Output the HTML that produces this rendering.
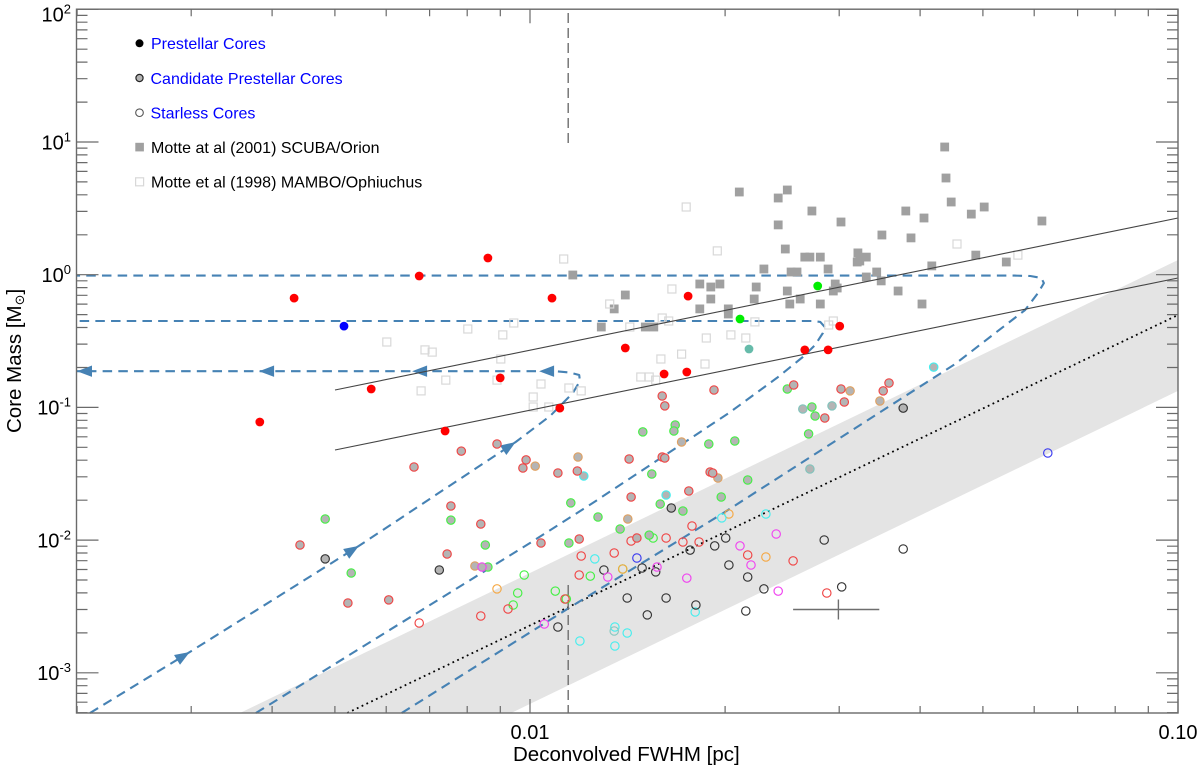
<!DOCTYPE html>
<html lang="en">
<head>
<meta charset="utf-8">
<title>Core Mass vs Deconvolved FWHM</title>
<style>
html,body{margin:0;padding:0;background:#fff;}
svg{position:absolute;left:0;top:0;display:block;font-family:"Liberation Sans",Arial,sans-serif;}
</style>
</head>
<body>
<svg id="chart" xmlns="http://www.w3.org/2000/svg" width="1200" height="769" viewBox="0 0 1200 769">
  <g id="plot-layer"></g>
  <g id="axis-layer"></g>
  <g>
    <circle cx="139.5" cy="43.3" r="4" fill="#000"/>
    <text x="151" y="49" font-size="16" fill="#0000ff">Prestellar Cores</text>
    <circle cx="139.5" cy="78" r="3.6" fill="#b4b4b4" stroke="#222" stroke-width="1.2"/>
    <text x="150.5" y="84" font-size="16" fill="#0000ff">Candidate Prestellar Cores</text>
    <circle cx="139.5" cy="112.7" r="3.8" fill="none" stroke="#555" stroke-width="1.1"/>
    <text x="150.5" y="118.5" font-size="16" fill="#0000ff">Starless Cores</text>
    <rect x="135.3" y="142.8" width="8.6" height="8.6" fill="#a0a0a0"/>
    <text x="151" y="153" font-size="16" fill="#000">Motte at al (2001) SCUBA/Orion</text>
    <rect x="135.6" y="177.8" width="8" height="8" fill="none" stroke="#d8d8d8" stroke-width="1.2"/>
    <text x="151" y="187.5" font-size="16" fill="#000">Motte et al (1998) MAMBO/Ophiuchus</text>
  </g>
  <text x="513" y="761" font-size="20.5" fill="#000">Deconvolved FWHM [pc]</text>
  <text transform="translate(21,433) rotate(-90)" font-size="20.5" fill="#000">Core Mass [M<tspan font-size="13" dy="3" font-family="'DejaVu Sans',sans-serif">⊙</tspan><tspan dy="-3">]</tspan></text>
</svg>
<script>
// All FWHM and mass values are log10 of pc and log10 of solar masses.
const xTickValues = [-2, -1];
const xTickLabels = ['0.01', '0.10'];
const yTickExponents = [2, 1, 0, -1, -2, -3];
const minorMultipliers = [2, 3, 4, 5, 6, 7, 8, 9];

const prestellarRedLogFwhm = [-2.171,-2.065,-1.966,-1.756,-1.853,-1.793,-1.758,-2.046,-1.954,-2.245,-2.417,-2.364,-2.131,-1.522,-1.576,-1.540];
const prestellarRedLogMass = [-0.010,0.126,-0.176,-0.161,-0.552,-0.748,-0.733,-0.778,-1.005,-0.861,-1.110,-0.176,-1.178,-0.387,-0.567,-0.567];
const prestellarBlueLogFwhm = [-2.287];
const prestellarBlueLogMass = [-0.387];
const prestellarGreenLogFwhm = [-1.556,-1.676];
const prestellarGreenLogMass = [-0.085,-0.334];
const prestellarTealLogFwhm = [-1.662];
const prestellarTealLogMass = [-0.560];

const motte2001LogFwhm = [-1.360,-1.358,-1.350,-1.299,-1.319,-1.210,-1.420,-1.392,-1.677,-1.617,-1.603,-1.565,-1.520,-1.617,-1.457,-1.412,-1.312,-1.265,-1.606,-1.576,-1.568,-1.552,-1.494,-1.481,-1.495,-1.491,-1.380,-1.639,-1.597,-1.588,-1.540,-1.465,-1.481,-1.458,-1.529,-1.526,-1.532,-1.432,-1.395,-1.552,-1.599,-1.583,-1.603,-1.651,-1.654,-1.721,-1.707,-1.721,-1.738,-1.738,-1.694,-1.694,-1.934,-1.853,-1.870,-1.890,-1.822,-1.809];
const motte2001LogMass = [0.962,0.729,0.548,0.510,0.457,0.405,0.480,0.427,0.623,0.578,0.638,0.480,0.397,0.375,0.299,0.277,0.148,0.096,0.194,0.133,0.133,0.133,0.164,0.133,0.096,0.103,0.066,0.043,0.020,0.020,0.043,0.020,-0.017,-0.047,-0.070,-0.100,-0.123,-0.123,-0.221,-0.221,-0.221,-0.183,-0.123,-0.093,-0.183,-0.093,-0.070,-0.183,-0.070,-0.258,-0.258,-0.296,-0.002,-0.153,-0.258,-0.394,-0.394,-0.394];

const motte1998LogFwhm = [-1.711,-1.341,-1.247,-1.653,-1.539,-1.532,-1.728,-1.690,-1.667,-1.730,-1.759,-1.948,-1.781,-1.877,-1.796,-1.786,-1.846,-2.096,-2.025,-2.042,-2.162,-2.151,-2.045,-1.798,-1.766,-2.130,-2.051,-1.983,-1.940,-1.921,-1.829,-1.816,-1.806,-2.168,-2.221,-1.995,-1.995,-1.971];
const motte1998LogMass = [0.179,0.231,0.148,-0.356,-0.379,-0.349,-0.477,-0.454,-0.477,-0.673,0.510,0.118,-0.108,-0.221,-0.326,-0.349,-0.394,-0.409,-0.364,-0.454,-0.567,-0.583,-0.635,-0.635,-0.598,-0.794,-0.794,-0.824,-0.854,-0.876,-0.771,-0.771,-0.794,-0.876,-0.507,-0.922,-0.997,-0.997];

const candidateRedLogFwhm = [-2.051,-2.006,-2.011,-1.957,-1.927,-1.847,-1.796,-1.792,-1.716,-1.796,-1.792,-1.722,-1.718,-1.755,-1.844,-1.924,-1.983,-2.076,-1.835,-1.593,-1.520,-1.515,-1.545,-1.455,-1.446,-2.122,-2.179,-2.106,-2.355,-2.281,-2.218,-2.128];
const candidateRedLogMass = [-1.276,-1.396,-1.457,-1.494,-1.479,-1.389,-0.914,-0.989,-0.869,-1.374,-1.381,-1.487,-1.494,-1.630,-1.675,-1.992,-2.022,-1.879,-1.984,-0.831,-0.861,-0.959,-1.080,-0.876,-0.816,-1.743,-1.449,-1.329,-2.037,-2.474,-2.451,-2.105];
const candidateOrangeLogFwhm = [-1.992,-1.926,-1.766,-1.710,-1.849,-1.506,-1.460,-2.085];
const candidateOrangeLogMass = [-1.442,-1.374,-1.261,-1.532,-1.841,-0.876,-0.952,-2.195];
const candidateGreenLogFwhm = [-1.826,-1.776,-1.778,-1.724,-1.812,-1.937,-1.895,-1.861,-1.940,-1.816,-1.799,-1.705,-1.764,-1.603,-1.565,-1.560,-1.570,-1.684,-1.664,-2.316,-2.276,-2.122,-2.069,-2.065];
const candidateGreenLogMass = [-1.185,-1.133,-1.178,-1.276,-1.502,-1.720,-1.826,-1.916,-2.022,-1.962,-1.728,-1.675,-1.781,-0.861,-0.997,-1.065,-1.200,-1.253,-1.547,-1.841,-2.248,-1.849,-2.037,-2.203];
const candidateCyanLogFwhm = [-1.917,-1.790,-1.377];
const candidateCyanLogMass = [-1.517,-1.660,-0.696];
const candidateBlackLogFwhm = [-1.782,-1.424,-2.316,-2.140];
const candidateBlackLogMass = [-1.758,-1.005,-2.142,-2.225];
const candidateTealLogFwhm = [-1.579,-1.534,-1.568];
const candidateTealLogMass = [-1.012,-0.989,-1.464];
const candidateMagentaLogFwhm = [-2.074];
const candidateMagentaLogMass = [-2.203];

const starlessRedLogFwhm = [-1.790,-1.844,-1.750,-1.764,-1.739,-1.921,-1.870,-1.924,-1.946,-1.664,-1.594,-1.542,-2.171,-2.034,-2.076];
const starlessRedLogMass = [-1.984,-2.007,-1.894,-2.014,-2.014,-2.120,-2.097,-2.263,-2.444,-2.112,-2.157,-2.399,-2.625,-2.519,-2.572];
const starlessBlackLogFwhm = [-1.715,-1.698,-1.753,-1.886,-1.827,-1.806,-1.693,-1.957,-1.850,-1.790,-1.819,-1.744,-1.546,-1.424,-1.664,-1.639,-1.519,-1.667];
const starlessBlackLogMass = [-2.044,-1.984,-2.075,-2.225,-2.210,-2.240,-2.188,-2.655,-2.436,-2.436,-2.564,-2.489,-1.999,-2.067,-2.278,-2.368,-2.353,-2.534];
const starlessCyanLogFwhm = [-1.704,-1.900,-1.745,-1.869,-1.850,-1.923,-1.869,-1.636];
const starlessCyanLogMass = [-1.833,-2.142,-2.542,-2.655,-2.700,-2.760,-2.798,-1.803];
const starlessTealLogFwhm = [-1.870];
const starlessTealLogMass = [-2.685];
const starlessGreenLogFwhm = [-1.810,-1.857,-1.907,-1.961,-1.944,-2.009,-2.019,-2.026];
const starlessGreenLogMass = [-1.984,-2.218,-2.271,-2.384,-2.444,-2.263,-2.399,-2.489];
const starlessOrangeLogFwhm = [-1.693,-1.636,-1.857,-2.051];
const starlessOrangeLogMass = [-1.803,-2.127,-2.218,-2.368];
const starlessMagentaLogFwhm = [-1.880,-1.804,-1.758,-1.978,-1.620,-1.676,-1.659,-1.617];
const starlessMagentaLogMass = [-2.278,-2.203,-2.286,-2.632,-1.954,-2.044,-2.188,-2.384];
const starlessBlueLogFwhm = [-1.835,-1.201];
const starlessBlueLogMass = [-2.135,-1.344];

const bandUpperLogFwhm = [-2.4475,-1];
const bandUpperLogMass = [-3.303,0.111];
const bandLowerLogFwhm = [-2.029,-1];
const bandLowerLogMass = [-3.303,-0.876];
const dottedLogFwhm = [-2.282,-1];
const dottedLogMass = [-3.303,-0.304];
const solidUpperLogFwhm = [-2.301,-1];
const solidUpperLogMass = [-0.869,0.427];
const solidLowerLogFwhm = [-2.301,-1];
const solidLowerLogMass = [-1.321,-0.025];

const trackALogFwhm = [-2.679,-2.525,-2.264,-2.022,-1.969,-1.934,-1.923,-1.924,-1.938,-1.961,-1.986,-2.182,-2.418,-2.699];
const trackALogMass = [-3.303,-2.843,-2.044,-1.261,-1.065,-0.892,-0.802,-0.756,-0.738,-0.727,-0.727,-0.727,-0.727,-0.727];
const trackAArrowVertices = [1,2,3,10,11,12,13];
const trackBLogFwhm = [-2.423,-2.239,-2.000,-1.903,-1.693,-1.619,-1.579,-1.560,-1.548,-1.545,-1.552,-1.565,-2.699];
const trackBLogMass = [-3.303,-2.745,-2.022,-1.720,-1.042,-0.778,-0.620,-0.530,-0.439,-0.394,-0.356,-0.349,-0.349];
const trackCLogFwhm = [-2.198,-1.940,-1.704,-1.344,-1.236,-1.216,-1.207,-1.211,-1.228,-1.252,-2.699];
const trackCLogMass = [-3.303,-2.512,-1.803,-0.673,-0.266,-0.138,-0.063,-0.025,-0.010,-0.007,-0.007];

const beamTopLogFwhm = [-1.941,-1.941];
const beamTopLogMass = [1.972,0.992];
const beamBottomLogFwhm = [-1.941,-1.941];
const beamBottomLogMass = [-2.338,-3.303];
const errorBarHLogFwhm = [-1.594,-1.461];
const errorBarHLogMass = [-2.523,-2.523];
const errorBarVLogFwhm = [-1.524,-1.524];
const errorBarVLogMass = [-2.448,-2.598];

const NS = 'http://www.w3.org/2000/svg';
const plotLayer = document.getElementById('plot-layer');
const axisLayer = document.getElementById('axis-layer');
const LEFT = 76.5, RIGHT = 1178, TOP = 9.2, BOTTOM = 713;
const xScale = v => 530 + 648 * (v + 2);
const yScale = v => 274.7 - 132.7 * v;

function make(tag, attrs, parent) {
  const el = document.createElementNS(NS, tag);
  for (const k in attrs) el.setAttribute(k, attrs[k]);
  parent.appendChild(el);
  return el;
}
function points(xs, ys) {
  return xs.map((x, i) => xScale(x).toFixed(1) + ',' + yScale(ys[i]).toFixed(1)).join(' ');
}

// shaded band
const band = make('polygon', {
  points: points(bandUpperLogFwhm, bandUpperLogMass) + ' ' + points(bandLowerLogFwhm.slice().reverse(), bandLowerLogMass.slice().reverse()),
  fill: '#e4e4e4'
}, plotLayer);



// dotted relation
const dotted = make('polyline', {
  points: points(dottedLogFwhm, dottedLogMass), fill: 'none', stroke: '#000',
  'stroke-width': 1.8, 'stroke-dasharray': '1.8 3.5'
}, plotLayer);



// evolutionary tracks
function drawTrack(xs, ys) {
  const line = make('polyline', {
    points: points(xs, ys), fill: 'none', stroke: '#4682b4', 'stroke-width': 2.1,
    'stroke-dasharray': '9.5 6.2', 'stroke-linejoin': 'round'
  }, plotLayer);
  
  
}
drawTrack(trackALogFwhm, trackALogMass);
drawTrack(trackBLogFwhm, trackBLogMass);
drawTrack(trackCLogFwhm, trackCLogMass);

trackAArrowVertices.forEach(i => {
  const tx = xScale(trackALogFwhm[i]), ty = yScale(trackALogMass[i]);
  const px = xScale(trackALogFwhm[i - 1]), py = yScale(trackALogMass[i - 1]);
  const angle = Math.atan2(ty - py, tx - px) * 180 / Math.PI;
  const arrow = make('polygon', {
    points: '0,0 -15,-5.7 -15,5.7', fill: '#4682b4',
    transform: 'translate(' + tx.toFixed(1) + ',' + ty.toFixed(1) + ') rotate(' + angle.toFixed(1) + ')'
  }, plotLayer);
  
  
});

// Motte squares
motte2001LogFwhm.forEach((x, i) => {
  const s = make('rect', {
    x: (xScale(x) - 4.4).toFixed(1), y: (yScale(motte2001LogMass[i]) - 4.4).toFixed(1),
    width: 8.8, height: 8.8, fill: '#a0a0a0'
  }, plotLayer);
  
  
});
motte1998LogFwhm.forEach((x, i) => {
  const s = make('rect', {
    x: (xScale(x) - 4).toFixed(1), y: (yScale(motte1998LogMass[i]) - 4).toFixed(1),
    width: 8, height: 8, fill: 'none', stroke: '#d8d8d8', 'stroke-width': 1.2
  }, plotLayer);
  
  
});

// solid relations
function drawSolid(xs, ys) {
  const line = make('polyline', {
    points: points(xs, ys), fill: 'none', stroke: '#444', 'stroke-width': 1.1
  }, plotLayer);
  
  
}
drawSolid(solidUpperLogFwhm, solidUpperLogMass);
drawSolid(solidLowerLogFwhm, solidLowerLogMass);

// beam marks and error bar
function drawGrayLine(xs, ys, dash) {
  const line = make('polyline', {
    points: points(xs, ys), fill: 'none', stroke: '#6e6e6e', 'stroke-width': 1.4
  }, plotLayer);
  if (dash) line.setAttribute('stroke-dasharray', '10 5');
  
  
}
drawGrayLine(beamTopLogFwhm, beamTopLogMass, true);
drawGrayLine(beamBottomLogFwhm, beamBottomLogMass, true);
drawGrayLine(errorBarHLogFwhm, errorBarHLogMass, false);
drawGrayLine(errorBarVLogFwhm, errorBarVLogMass, false);

// core markers
function drawStarless(xs, ys, color) {
  xs.forEach((x, i) => {
    const c = make('circle', {
      cx: xScale(x).toFixed(1), cy: yScale(ys[i]).toFixed(1), r: 4.2,
      fill: 'none', stroke: color, 'stroke-width': 1.15
    }, plotLayer);
    
    
  });
}
function drawCandidate(xs, ys, color) {
  xs.forEach((x, i) => {
    const c = make('circle', {
      cx: xScale(x).toFixed(1), cy: yScale(ys[i]).toFixed(1), r: 4.2,
      fill: '#b4b4b4', stroke: color, 'stroke-width': 1.15
    }, plotLayer);
    
    
  });
}
function drawPrestellar(xs, ys, color) {
  xs.forEach((x, i) => {
    const c = make('circle', {
      cx: xScale(x).toFixed(1), cy: yScale(ys[i]).toFixed(1), r: 4.4, fill: color
    }, plotLayer);
    
    
  });
}
drawStarless(starlessGreenLogFwhm, starlessGreenLogMass, '#44f044');
drawStarless(starlessOrangeLogFwhm, starlessOrangeLogMass, '#f5a742');
drawStarless(starlessCyanLogFwhm, starlessCyanLogMass, '#44eeee');
drawStarless(starlessTealLogFwhm, starlessTealLogMass, '#88c8c0');
drawStarless(starlessBlackLogFwhm, starlessBlackLogMass, '#333');
drawStarless(starlessRedLogFwhm, starlessRedLogMass, '#f04444');
drawStarless(starlessMagentaLogFwhm, starlessMagentaLogMass, '#f044f0');
drawStarless(starlessBlueLogFwhm, starlessBlueLogMass, '#3a3af0');

drawCandidate(candidateGreenLogFwhm, candidateGreenLogMass, '#44f044');
drawCandidate(candidateOrangeLogFwhm, candidateOrangeLogMass, '#e0a060');
drawCandidate(candidateCyanLogFwhm, candidateCyanLogMass, '#44eeee');
drawCandidate(candidateTealLogFwhm, candidateTealLogMass, '#80c4bc');
drawCandidate(candidateBlackLogFwhm, candidateBlackLogMass, '#333');
drawCandidate(candidateRedLogFwhm, candidateRedLogMass, '#f04444');
drawCandidate(candidateMagentaLogFwhm, candidateMagentaLogMass, '#f044f0');

drawPrestellar(prestellarRedLogFwhm, prestellarRedLogMass, '#ff0000');
drawPrestellar(prestellarBlueLogFwhm, prestellarBlueLogMass, '#0000ff');
drawPrestellar(prestellarGreenLogFwhm, prestellarGreenLogMass, '#00ee00');
drawPrestellar(prestellarTealLogFwhm, prestellarTealLogMass, '#66bbaa');

// axes
const frame = make('rect', {
  x: LEFT, y: TOP, width: RIGHT - LEFT, height: BOTTOM - TOP,
  fill: 'none', stroke: '#6a6a6a', 'stroke-width': 1.4
}, axisLayer);



function xTickPair(v, len) {
  const x = xScale(v);
  if (x < LEFT - 0.5 || x > RIGHT + 0.5) return;
  const t = make('path', {
    d: 'M' + x.toFixed(1) + ' ' + BOTTOM + 'v' + (-len) + 'M' + x.toFixed(1) + ' ' + TOP + 'v' + len,
    stroke: '#6a6a6a', 'stroke-width': 1.2, fill: 'none'
  }, axisLayer);
  
  
}
function yTickPair(v, len) {
  const y = yScale(v);
  if (y < TOP - 0.5 || y > BOTTOM + 0.5) return;
  const t = make('path', {
    d: 'M' + LEFT + ' ' + y.toFixed(1) + 'h' + len + 'M' + RIGHT + ' ' + y.toFixed(1) + 'h' + (-len),
    stroke: '#6a6a6a', 'stroke-width': 1.2, fill: 'none'
  }, axisLayer);
  
  
}
[-3, -2].forEach(d => minorMultipliers.forEach(m => xTickPair(d + Math.log10(m), 7)));
xTickValues.forEach(v => xTickPair(v, 14));
[-4, -3, -2, -1, 0, 1].forEach(d => minorMultipliers.forEach(m => yTickPair(d + Math.log10(m), 11)));
yTickExponents.forEach(v => yTickPair(v, 22));

xTickValues.forEach((v, i) => {
  const t = make('text', {
    x: xScale(v), y: 739, 'font-size': 20, 'text-anchor': 'middle', fill: '#000'
  }, axisLayer);
  t.textContent = xTickLabels[i];
  
  
});
yTickExponents.forEach(e => {
  const baseline = Math.max(yScale(e) + 7.3, 21.5);
  const t = make('text', {
    x: 71, y: baseline.toFixed(1), 'font-size': 20, 'text-anchor': 'end', fill: '#000'
  }, axisLayer);
  
  
  const base = make('tspan', {}, t);
  base.textContent = '10';
  const sup = make('tspan', { 'font-size': 13, dy: -8 }, t);
  sup.textContent = String(e);
});
</script>
</body>
</html>
